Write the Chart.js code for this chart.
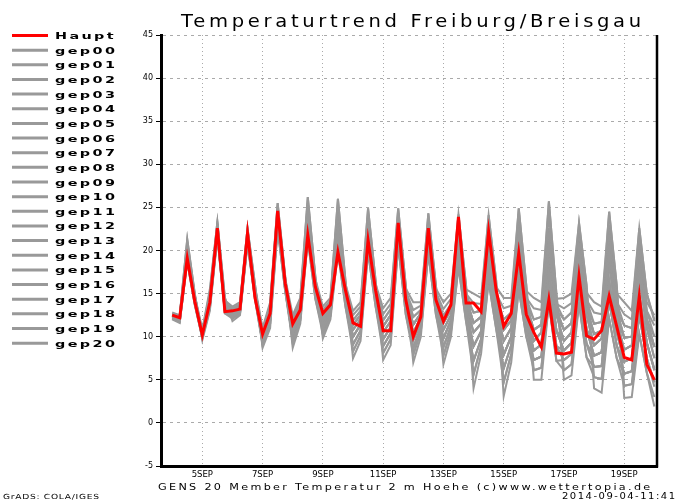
<!DOCTYPE html>
<html>
<head>
<meta charset="utf-8">
<script src="https://cdn.jsdelivr.net/npm/chart.js@4/dist/chart.umd.min.js"></script>
<style>
html,body{margin:0;padding:0;background:#fff;}
canvas{display:block;}
</style>
</head>
<body>
<canvas id="c" width="700" height="500"></canvas>
<script>
// time steps: hours since 4 SEP 2014 00Z (6-hourly)
const stepHours = [0,6,12,18,24,30,36,42,48,54,60,66,72,78,84,90,96,102,108,114,120,126,132,138,144,150,156,162,168,174,180,186,192,198,204,210,216,222,228,234,240,246,252,258,264,270,276,282,288,294,300,306,312,318,324,330,336,342,348,354,360,366,372,378,384];
const xTickHours = [24,72,120,168,216,264,312,360];
const xTickLabels = ['5SEP','7SEP','9SEP','11SEP','13SEP','15SEP','17SEP','19SEP'];
const yTickValues = [-5,0,5,10,15,20,25,30,35,40,45];
const seriesNames = ['Haupt','gep00','gep01','gep02','gep03','gep04','gep05','gep06','gep07','gep08','gep09','gep10','gep11','gep12','gep13','gep14','gep15','gep16','gep17','gep18','gep19','gep20'];

const haupt = [12.5,12.2,19.1,14.1, 10.2,14.0,22.6,12.9, 13.0,13.2,22.0,14.5, 10.3,12.7,24.6,16.2, 11.5,13.1,21.8,15.8, 12.7,13.7,19.8,15.4, 11.6,11.2,21.2,15.4, 10.7,10.7,23.2,14.3, 10.0,12.3,22.6,14.3, 11.8,13.7,23.9,13.9, 13.9,12.9,22.2,15.4, 11.2,12.7,19.7,12.6, 10.5,8.8,14.3,8.1, 8.0,8.2,17.0,10.1, 9.7,10.7,14.7,11.2, 7.6,7.3,14.7,6.8, 5.0];

const gep00 = [12.0,11.6,18.7,13.7, 9.8,13.3,21.8,12.9, 12.3,12.9,21.0,14.5, 9.7,12.4,23.5,15.8, 10.4,12.6,22.8,15.2, 11.8,13.4,22.5,15.0, 10.8,12.0,22.7,15.4, 11.2,12.5,23.1,14.9, 11.4,12.7,23.1,15.2, 12.4,13.8,23.5,15.5, 15.0,14.5,24.1,16.5, 4.7,8.0,15.5,10.0, 7.3,7.7,15.7,8.9, 7.3,8.0,17.3,10.9, 7.8,8.2,16.4,10.5, 7.1,7.5,17.0,11.0, 7.5];
const gep01 = [12.2,11.9,19.4,14.1, 10.1,13.9,22.1,13.1, 12.6,13.1,21.6,15.0, 10.0,12.8,24.0,16.0, 11.4,13.4,24.2,16.0, 12.2,13.7,23.4,15.4, 11.9,13.0,23.5,15.8, 12.6,13.8,24.9,16.0, 7.0,10.0,19.7,12.6, 7.8,10.6,19.2,12.5, 7.2,9.7,17.7,11.7, 7.9,10.0,18.5,12.0, 8.4,9.1,17.6,10.7, 9.5,10.5,19.0,12.5, 9.0,9.8,20.0,13.0, 9.9,10.0,18.4,12.0, 8.8];
const gep02 = [12.4,12.1,19.8,14.3, 10.2,14.2,22.6,13.6, 13.0,13.5,21.9,15.3, 10.3,13.1,24.8,16.5, 11.8,13.8,25.5,16.7, 13.5,14.5,26.0,16.5, 8.3,10.1,19.8,13.5, 8.9,10.4,21.2,13.2, 8.7,11.1,21.1,13.7, 9.8,11.9,20.4,13.3, 8.9,10.6,20.5,13.5, 9.5,11.0,20.0,13.0, 10.8,11.4,21.1,13.1, 10.8,11.6,20.1,13.4, 11.5,11.7,21.5,14.0, 12.6,12.0,22.6,15.0, 11.8];
const gep03 = [12.5,12.2,20.2,14.5, 10.5,14.8,22.8,13.9, 13.3,13.8,22.6,16.0, 8.7,11.0,22.5,15.3, 9.3,11.9,22.0,14.8, 10.8,12.7,20.7,14.0, 10.0,11.4,21.3,14.5, 9.7,11.1,21.9,13.9, 10.5,12.2,21.8,14.3, 10.8,12.5,22.2,14.5, 11.6,12.3,21.4,14.3, 10.8,11.9,22.5,14.5, 12.0,12.3,24.2,14.4, 14.5,15.0,23.2,16.0, 5.3,5.1,12.1,7.5, 5.7,6.0,12.5,7.5, 4.7];
const gep04 = [12.8,12.5,21.3,15.0, 9.8,13.3,21.6,12.7, 12.3,12.9,21.0,14.5, 9.3,11.9,23.5,15.8, 10.4,12.6,22.8,15.2, 11.3,13.1,22.5,15.0, 10.8,12.0,22.0,15.0, 11.2,12.5,23.1,14.9, 11.4,12.7,22.4,14.7, 12.4,13.8,22.9,15.0, 13.9,13.8,24.1,16.5, 3.1,7.0,15.5,10.0, 6.1,6.4,15.7,8.9, 7.3,8.0,15.5,9.2, 7.8,8.2,16.4,10.5, 7.1,7.5,14.8,9.3, 6.3];
const gep05 = [12.2,11.9,19.0,13.9, 10.1,13.9,22.1,13.1, 12.6,13.1,21.3,14.8, 10.0,12.8,24.0,16.0, 11.0,13.0,24.2,16.0, 12.2,13.7,23.4,15.4, 11.4,12.5,23.5,15.8, 11.9,13.2,24.3,15.6, 14.0,14.0,24.3,16.0, 7.8,10.6,18.1,11.8, 7.2,9.7,17.7,11.7, 6.3,9.0,18.5,12.0, 8.4,9.1,17.6,10.7, 8.4,9.3,19.0,12.5, 9.0,9.8,18.5,12.0, 9.9,10.0,18.4,12.0, 8.8];
const gep06 = [12.3,12.0,19.8,14.3, 10.2,14.2,22.4,13.3, 13.0,13.5,21.9,15.3, 10.3,13.1,24.4,16.3, 11.8,13.8,24.9,16.3, 13.1,14.2,26.0,16.5, 7.5,9.5,19.8,13.5, 8.1,9.7,21.2,13.2, 8.7,11.1,20.4,13.1, 9.8,11.9,20.4,13.3, 8.9,10.6,19.1,12.6, 9.5,11.0,20.0,13.0, 9.5,10.5,21.1,13.1, 10.8,11.6,20.1,13.4, 10.3,10.7,21.5,14.0, 11.3,11.0,21.2,14.0, 12.5];
const gep07 = [12.5,12.2,20.2,14.5, 10.4,14.5,22.8,13.9, 13.2,13.7,22.4,15.8, 11.0,14.0,25.5,17.0, 9.3,11.9,21.3,14.4, 10.8,12.7,20.7,14.0, 9.1,10.7,21.3,14.5, 9.7,11.1,21.9,13.9, 9.6,11.7,21.8,14.3, 10.8,12.5,21.5,14.0, 11.6,12.3,21.4,14.3, 10.8,11.9,21.2,13.8, 12.0,12.3,22.6,13.8, 13.3,13.9,23.2,16.0, 4.0,3.5,12.1,7.5, 4.3,4.5,12.5,7.5, 4.7];
const gep08 = [12.7,12.4,21.3,15.0, 9.6,13.0,21.6,12.7, 12.1,12.7,21.0,14.5, 9.3,11.9,23.0,15.5, 10.4,12.6,22.8,15.2, 11.3,13.1,21.6,14.5, 10.8,12.0,22.0,15.0, 10.5,11.8,23.1,14.9, 11.4,12.7,22.4,14.7, 11.6,13.1,22.9,15.0, 12.8,13.0,23.2,15.8, 14.5,14.5,24.9,16.0, 6.1,6.4,13.9,7.2, 7.3,8.0,15.5,9.2, 6.5,6.6,16.4,10.5, 7.1,7.5,14.8,9.3, 6.1];
const gep09 = [12.2,11.9,19.0,13.9, 9.9,13.6,22.1,13.1, 12.6,13.1,21.3,14.8, 9.7,12.4,24.0,16.0, 11.0,13.0,23.5,15.6, 12.2,13.7,23.4,15.4, 11.4,12.5,22.7,15.4, 11.9,13.2,23.7,15.3, 13.1,13.6,24.3,16.0, 6.8,10.0,18.1,11.8, 5.6,8.9,17.7,11.7, 6.3,9.0,17.0,11.0, 8.4,9.1,17.6,10.7, 8.4,9.3,17.3,10.9, 9.0,9.8,18.5,12.0, 8.5,9.0,18.4,12.0, 8.8];
const gep10 = [12.3,12.0,19.4,14.1, 10.2,14.2,22.4,13.3, 12.8,13.3,21.9,15.3, 10.3,13.1,24.4,16.3, 11.4,13.4,24.9,16.3, 12.7,14.0,25.1,16.1, 13.0,14.0,24.9,16.5, 8.1,9.7,20.6,12.6, 8.7,11.1,20.4,13.1, 8.8,11.2,20.4,13.3, 8.9,10.6,19.1,12.6, 7.9,10.0,20.0,13.0, 9.5,10.5,19.5,12.5, 10.8,11.6,20.1,13.4, 10.3,10.7,20.0,13.0, 11.3,11.0,19.8,13.0, 11.3];
const gep11 = [12.5,12.2,20.2,14.5, 10.4,14.5,22.6,13.6, 13.2,13.7,22.1,15.5, 10.8,13.7,25.5,17.0, 8.7,11.5,21.3,14.4, 10.3,12.4,20.7,14.0, 9.1,10.7,20.5,14.0, 9.7,11.1,21.9,13.9, 9.6,11.7,21.1,13.7, 10.8,12.5,21.5,14.0, 10.5,11.5,21.4,14.3, 10.8,11.9,21.2,13.8, 10.8,11.4,22.6,13.8, 12.0,12.8,22.2,15.1, 14.0,13.5,24.5,16.0, 4.3,4.5,10.3,5.8, 3.0];
const gep12 = [12.6,12.3,20.9,14.8, 10.8,15.5,23.3,14.5, 12.1,12.7,20.8,14.3, 9.3,11.9,23.0,15.5, 9.8,12.2,22.8,15.2, 11.3,13.1,21.6,14.5, 10.0,11.4,22.0,15.0, 10.5,11.8,22.5,14.5, 11.4,12.7,22.4,14.7, 11.6,13.1,22.2,14.5, 12.8,13.0,22.3,15.0, 13.3,13.6,24.9,16.0, 5.0,5.0,13.9,7.2, 6.1,6.8,15.5,9.2, 6.5,6.6,14.2,9.0, 7.1,7.5,14.8,9.3, 6.1];
const gep13 = [12.1,11.7,19.0,13.9, 9.9,13.6,21.8,12.9, 12.6,13.1,21.3,14.8, 9.7,12.4,23.5,15.8, 11.0,13.0,23.5,15.6, 11.8,13.4,23.4,15.4, 11.4,12.5,22.7,15.4, 11.2,12.5,23.7,15.3, 12.3,13.1,23.7,15.6, 14.0,15.0,24.2,16.0, 5.6,8.9,16.4,10.9, 6.3,9.0,17.0,11.0, 7.3,7.7,17.6,10.7, 8.4,9.3,17.3,10.9, 7.8,8.2,18.5,12.0, 8.5,9.0,17.0,11.0, 8.8];
const gep14 = [12.3,12.0,19.4,14.1, 10.1,13.9,22.4,13.3, 12.8,13.3,21.6,15.0, 10.3,13.1,24.4,16.3, 11.4,13.4,24.2,16.0, 12.7,14.0,24.3,15.8, 12.5,13.5,24.9,16.5, 7.3,9.0,20.6,12.6, 7.9,10.6,20.4,13.1, 8.8,11.2,19.2,12.5, 8.9,10.6,19.1,12.6, 7.9,10.0,18.5,12.0, 9.5,10.5,19.5,12.5, 9.5,10.5,20.1,13.4, 10.3,10.7,20.0,13.0, 9.9,10.0,19.8,13.0, 10.0];
const gep15 = [12.4,12.1,20.2,14.5, 10.4,14.5,22.6,13.6, 13.0,13.5,22.1,15.5, 10.5,13.4,25.1,16.8, 12.5,14.5,26.2,17.0, 10.3,12.4,19.9,13.5, 9.1,10.7,20.5,14.0, 8.9,10.4,21.9,13.9, 9.6,11.7,21.1,13.7, 9.8,11.9,21.5,14.0, 10.5,11.5,20.5,13.5, 10.8,11.9,21.2,13.8, 10.8,11.4,21.1,13.1, 12.0,12.8,21.1,14.3, 12.8,12.6,24.5,16.0, 2.9,3.0,10.3,5.8, 1.9];
const gep16 = [12.6,12.3,20.6,14.7, 10.7,15.2,23.3,14.5, 11.8,12.5,20.8,14.3, 9.0,11.5,23.0,15.5, 9.8,12.2,22.0,14.8, 11.3,13.1,21.6,14.5, 10.0,11.4,21.3,14.5, 10.5,11.8,22.5,14.5, 10.5,12.2,22.4,14.7, 11.6,13.1,22.2,14.5, 11.6,12.3,22.3,15.0, 12.0,12.8,23.7,15.3, 14.5,14.0,25.7,15.0, 6.1,6.8,13.8,7.6, 6.5,6.6,14.2,9.0, 5.7,6.0,14.8,9.3, 6.1];
const gep17 = [12.1,11.7,18.7,13.7, 9.9,13.6,21.8,12.9, 12.3,12.9,21.3,14.8, 9.7,12.4,23.5,15.8, 10.4,12.6,23.5,15.6, 11.8,13.4,22.5,15.0, 11.4,12.5,22.7,15.4, 11.2,12.5,23.1,14.9, 12.3,13.1,23.1,15.2, 13.2,14.4,24.2,16.0, 4.0,8.0,16.4,10.9, 4.7,8.0,17.0,11.0, 7.3,7.7,15.7,8.9, 8.4,9.3,17.3,10.9, 7.8,8.2,16.4,10.5, 8.5,9.0,17.0,11.0, 7.5];
const gep18 = [12.3,12.0,19.4,14.1, 10.1,13.9,22.1,13.1, 12.8,13.3,21.6,15.0, 10.0,12.8,24.4,16.3, 11.4,13.4,24.2,16.0, 12.2,13.7,24.3,15.8, 11.9,13.0,24.2,16.1, 13.3,14.5,24.9,16.0, 7.9,10.6,19.7,12.6, 8.8,11.2,19.2,12.5, 7.2,9.7,19.1,12.6, 7.9,10.0,18.5,12.0, 8.4,9.1,19.5,12.5, 9.5,10.5,19.0,12.5, 10.3,10.7,20.0,13.0, 9.9,10.0,18.4,12.0, 10.0];
const gep19 = [12.4,12.1,19.8,14.3, 10.4,14.5,22.6,13.6, 13.0,13.5,21.9,15.3, 10.5,13.4,24.8,16.5, 12.1,14.1,26.2,17.0, 9.8,12.0,19.9,13.5, 8.3,10.1,20.5,14.0, 8.9,10.4,21.2,13.2, 9.6,11.7,21.1,13.7, 9.8,11.9,20.4,13.3, 10.5,11.5,20.5,13.5, 9.5,11.0,21.2,13.8, 10.8,11.4,21.1,13.1, 10.8,11.6,21.1,14.3, 11.5,11.7,23.0,15.0, 14.0,13.0,22.6,15.0, 12.0];
const gep20 = [12.5,12.2,20.6,14.7, 10.5,14.8,23.1,14.2, 13.5,14.0,22.6,16.0, 9.0,11.5,22.5,15.3, 9.8,12.2,22.0,14.8, 10.8,12.7,21.6,14.5, 10.0,11.4,21.3,14.5, 9.7,11.1,22.5,14.5, 10.5,12.2,21.8,14.3, 11.6,13.1,22.2,14.5, 11.6,12.3,21.4,14.3, 12.0,12.8,22.5,14.5, 13.3,13.1,25.7,15.0, 5.0,5.5,13.8,7.6, 5.3,5.1,14.2,9.0, 5.7,6.0,12.5,7.5, 4.2];

const members = [gep00,gep01,gep02,gep03,gep04,gep05,gep06,gep07,gep08,gep09,gep10,gep11,gep12,gep13,gep14,gep15,gep16,gep17,gep18,gep19,gep20];

const titleText = 'Temperaturtrend Freiburg/Breisgau';
const footerText = 'GENS 20 Member Temperatur 2 m Hoehe (c)www.wettertopia.de';
const stampText = '2014-09-04-11:41';
const creditText = 'GrADS: COLA/IGES';

const RED = 'rgb(255,0,0)';
const GRAY = 'rgb(153,153,153)';

function toXY(vals){ return vals.map((v,i)=>({x: stepHours[i], y: v})); }

const datasets = [{
  label: seriesNames[0], data: toXY(haupt), borderColor: RED, borderWidth: 3,
  pointRadius: 0, tension: 0, fill: false
}];
members.forEach((m, k) => {
  datasets.push({label: seriesNames[k+1], data: toXY(m), borderColor: GRAY, borderWidth: 2,
    pointRadius: 0, tension: 0, fill: false});
});

// wide "GrADS-like" text: horizontally stretched glyphs plus letter spacing to reach a target width
function wideText(ctx, text, x, y, font, width, sx, color){
  ctx.save();
  ctx.font = font; ctx.fillStyle = color || '#000';
  ctx.textBaseline = 'alphabetic'; ctx.textAlign = 'left';
  const hasLS = ('letterSpacing' in ctx);
  if (hasLS) ctx.letterSpacing = '0px';
  const w = ctx.measureText(text).width;
  let s = sx;
  if (hasLS && text.length > 1) {
    let sp = (width / sx - w) / (text.length - 1);
    if (sp < 0) { sp = 0; s = width / w; }
    ctx.letterSpacing = sp.toFixed(2) + 'px';
  } else {
    s = width / w;
  }
  ctx.translate(x, y); ctx.scale(s, 1);
  ctx.fillText(text, 0, 0);
  if (hasLS) ctx.letterSpacing = '0px';
  ctx.restore();
}

const decor = {
  id: 'decor',
  beforeDraw(chart){
    const ctx = chart.ctx;
    ctx.save(); ctx.fillStyle = '#fff'; ctx.fillRect(0,0,chart.width,chart.height); ctx.restore();
  },
  afterDraw(chart){
    const ctx = chart.ctx;
    const a = chart.chartArea;
    // right frame line
    ctx.save();
    ctx.strokeStyle = '#000'; ctx.lineWidth = 2.5;
    ctx.beginPath(); ctx.moveTo(a.right, a.top); ctx.lineTo(a.right, a.bottom + 1.5); ctx.stroke();
    ctx.restore();
    // title
    wideText(ctx, titleText, 181, 27, '17px "DejaVu Sans"', 460, 1.15, '#000');
    // legend
    ctx.save();
    ctx.font = 'bold 9px "DejaVu Sans"';
    const refW = ctx.measureText('gep00').width;
    ctx.restore();
    const legendTop = 35.5, legendStep = 14.65;
    seriesNames.forEach((name, k) => {
      const y = legendTop + k * legendStep;
      ctx.save();
      ctx.strokeStyle = k === 0 ? RED : GRAY;
      ctx.lineWidth = 3;
      ctx.beginPath(); ctx.moveTo(12, y); ctx.lineTo(48, y); ctx.stroke();
      ctx.font = 'bold 9px "DejaVu Sans"';
      const w = ctx.measureText(name).width;
      ctx.restore();
      wideText(ctx, name, 55, y + 3.5, 'bold 9px "DejaVu Sans"', w * 60 / refW, 1.6, '#000');
    });
    // footer texts
    wideText(ctx, footerText, 158, 490, '8px "DejaVu Sans"', 492, 1.4, '#000');
    wideText(ctx, stampText, 562, 499, '8px "DejaVu Sans"', 113, 1.25, '#000');
    wideText(ctx, creditText, 3, 499, '7px "DejaVu Sans"', 96, 1.3, '#000');
  }
};

new Chart(document.getElementById('c'), {
  type: 'line',
  data: { datasets },
  options: {
    responsive: false,
    animation: false,
    devicePixelRatio: 1,
    layout: { padding: { left: 121, right: 43, top: 35, bottom: 4 } },
    plugins: { legend: { display: false }, title: { display: false }, tooltip: { enabled: false } },
    scales: {
      x: {
        type: 'linear', min: -8.9, max: 386.1,
        afterBuildTicks(scale){ scale.ticks = xTickHours.map(v => ({value: v})); },
        afterFit(scale){ scale.height = 30; },
        ticks: {
          autoSkip: false, maxRotation: 0, padding: 4, color: '#000',
          font: { family: 'DejaVu Sans', size: 8.5 },
          callback(value){ const k = xTickHours.indexOf(value); return k >= 0 ? xTickLabels[k] : ''; }
        },
        grid: { display: true, drawTicks: false, color: 'rgb(170,170,170)', lineWidth: 1 },
        border: { display: true, color: '#000', width: 3, dash: [1,3] }
      },
      y: {
        type: 'linear', min: -5, max: 45,
        afterBuildTicks(scale){ scale.ticks = yTickValues.map(v => ({value: v})); },
        afterFit(scale){ scale.width = 40; },
        ticks: { padding: 3, color: '#000', font: { family: 'DejaVu Sans', size: 8 },
          callback(value){ return String(Math.round(value)); } },
        grid: { display: true, drawTicks: true, tickLength: 5, tickColor: '#000', tickWidth: 1, color: 'rgb(170,170,170)', lineWidth: 1 },
        border: { display: true, color: '#000', width: 3, dash: [3,4] }
      }
    }
  },
  plugins: [decor]
});
</script>
</body>
</html>
